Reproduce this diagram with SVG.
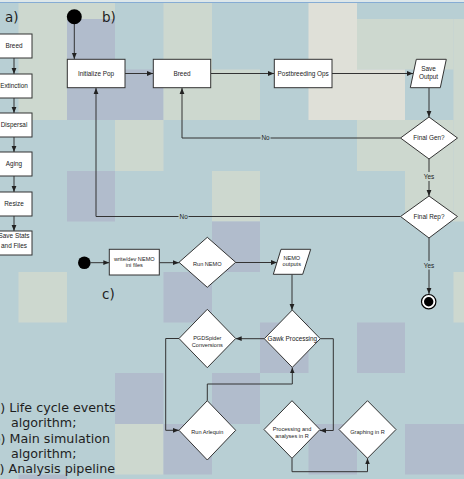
<svg xmlns="http://www.w3.org/2000/svg" width="464" height="479" viewBox="0 0 464 479">
<defs>
<style>
.b{fill:#b8cfd4}.be{fill:#cdd8cf}.lt{fill:#dfe0d8}.lv{fill:#b1bccc}
.n{fill:#ffffff;stroke:#333333;stroke-width:1}
.t{font-family:"Liberation Sans",Arial,sans-serif;font-size:6.4px;fill:#222222;text-anchor:middle}
.s{font-size:5.6px}
.e{fill:none;stroke:#333333;stroke-width:1}
.big{font-family:"DejaVu Sans",Verdana,sans-serif;fill:#1e1e1e}
</style>
<marker id="ar" viewBox="0 0 10 10" refX="10" refY="5" markerWidth="6" markerHeight="6" markerUnits="userSpaceOnUse" orient="auto">
<path d="M0,1 L10,5 L0,9 z" fill="#222222"/>
</marker>
</defs>
<g id="background">
<rect x="0" y="0" width="464" height="479" class="b"/>
<rect x="0" y="0" width="464" height="2.5" fill="#dde7ea"/>
<line x1="0" y1="2.5" x2="464" y2="2.5" stroke="#86acd4" stroke-width="1"/>
<rect x="18.5" y="3" width="48.5" height="117" class="be"/>
<rect x="67" y="3" width="48" height="16" class="be"/>
<rect x="67" y="19" width="48" height="101" class="lv"/>
<rect x="115" y="69.5" width="48.5" height="50.5" class="lv"/>
<rect x="163.5" y="3" width="48.5" height="117" class="be"/>
<rect x="212" y="69.5" width="48" height="50.5" class="be"/>
<rect x="308.5" y="3" width="48.5" height="117" class="lt"/>
<rect x="357" y="19" width="48" height="50.5" class="be"/>
<rect x="357" y="69.5" width="48" height="50.5" class="lt"/>
<rect x="405" y="19" width="48.5" height="50.5" class="be"/>
<rect x="453.5" y="19" width="10.5" height="202.5" class="be"/>
<rect x="115" y="120" width="48.5" height="51" class="be"/>
<rect x="357" y="120" width="48" height="51" class="be"/>
<rect x="405" y="120" width="48.5" height="101.5" class="be"/>
<rect x="67" y="171" width="48" height="50.5" class="lv"/>
<rect x="212" y="171" width="48" height="50.5" class="be"/>
<rect x="212" y="221.5" width="48" height="50.5" class="lv"/>
<rect x="18.5" y="272" width="48.5" height="50.5" class="be"/>
<rect x="163.5" y="272" width="48.5" height="50.5" class="lv"/>
<rect x="453.5" y="272" width="10.5" height="50.5" class="be"/>
<rect x="260" y="322.5" width="48.5" height="50.5" class="lv"/>
<rect x="357" y="322.5" width="48" height="50.5" class="lv"/>
<rect x="115" y="373" width="48.5" height="51" class="lv"/>
<rect x="212" y="373" width="48" height="51" class="lv"/>
<rect x="115" y="424" width="48.5" height="50.5" class="be"/>
<rect x="163.5" y="424" width="48.5" height="50.5" class="lv"/>
<rect x="308.5" y="424" width="48.5" height="50.5" class="lv"/>
<rect x="405" y="424" width="59" height="50.5" class="lv"/>
<rect x="18.5" y="474.5" width="48.5" height="4.5" class="lv"/>
</g>
<g id="panel-labels" class="big" font-size="13.5">
<text x="5" y="22">a)</text>
<text x="102" y="21.7">b)</text>
<text x="102" y="299.3">c)</text>
</g>
<g id="connectors">
<path class="e" marker-end="url(#ar)" d="M14,58 V74"/>
<path class="e" marker-end="url(#ar)" d="M14,98 V113"/>
<path class="e" marker-end="url(#ar)" d="M14,137 V152"/>
<path class="e" marker-end="url(#ar)" d="M14,176 V192"/>
<path class="e" marker-end="url(#ar)" d="M14,216 V231"/>
<path class="e" marker-end="url(#ar)" d="M74.3,24 V59"/>
<path class="e" marker-end="url(#ar)" d="M125,73.5 H153"/>
<path class="e" marker-end="url(#ar)" d="M211,73.5 H274"/>
<path class="e" marker-end="url(#ar)" d="M332,73.5 H413"/>
<path class="e" marker-end="url(#ar)" d="M429,88 V117"/>
<path class="e" d="M400.5,138 H270.5"/>
<path class="e" marker-end="url(#ar)" d="M260.5,138 H182 V88"/>
<path class="e" d="M429,159 V172"/>
<path class="e" marker-end="url(#ar)" d="M429,181 V196"/>
<path class="e" d="M400.5,216.5 H188.5"/>
<path class="e" marker-end="url(#ar)" d="M178.5,216.5 H96 V88"/>
<path class="e" d="M429,238 V261"/>
<path class="e" marker-end="url(#ar)" d="M429,269.5 V294"/>
<path class="e" marker-end="url(#ar)" d="M90.6,262.7 H109.3"/>
<path class="e" marker-end="url(#ar)" d="M159.3,262.7 H179"/>
<path class="e" marker-end="url(#ar)" d="M235.7,262.5 H277"/>
<path class="e" marker-end="url(#ar)" d="M292,274.3 V310"/>
<path class="e" marker-end="url(#ar)" d="M264.3,338.7 H235.7"/>
<path class="e" marker-end="url(#ar)" d="M179,338.5 H165.7 V430.3 H179"/>
<path class="e" marker-end="url(#ar)" d="M207.3,400.7 V384 H292.3 V367.4"/>
<path class="e" marker-end="url(#ar)" d="M320.3,338.7 H333.3 V430.5 H320"/>
<path class="e" marker-end="url(#ar)" d="M292,458.3 V471.7 H367.5 V458.3"/>
<g class="t">
<text x="265.5" y="140.3">No</text>
<text x="429" y="179">Yes</text>
<text x="183.7" y="218.8">No</text>
<text x="429" y="267.5">Yes</text>
</g>
</g>
<g id="a-breed"><rect class="n" x="-4" y="34" width="36" height="24"/><text class="t" x="14" y="48.3">Breed</text></g>
<g id="a-extinction"><rect class="n" x="-4" y="74" width="36" height="24"/><text class="t" x="14" y="88.3">Extinction</text></g>
<g id="a-dispersal"><rect class="n" x="-4" y="113" width="36" height="24"/><text class="t" x="14" y="127.3">Dispersal</text></g>
<g id="a-aging"><rect class="n" x="-4" y="152" width="36" height="24"/><text class="t" x="14" y="166.3">Aging</text></g>
<g id="a-resize"><rect class="n" x="-4" y="192" width="36" height="24"/><text class="t" x="14" y="206.3">Resize</text></g>
<g id="a-save"><rect class="n" x="-4" y="231" width="36" height="24"/><text class="t" x="14" y="238.4">Save Stats</text><text class="t" x="14" y="248.4">and Files</text></g>
<g id="b-start"><circle cx="74.3" cy="16.7" r="7.5" fill="#000000"/></g>
<g id="b-init"><rect class="n" x="67.3" y="59.3" width="57.7" height="28.4"/><text class="t" x="96" y="75.8">Initialize Pop</text></g>
<g id="b-breed"><rect class="n" x="153.3" y="59.3" width="57.4" height="28.4"/><text class="t" x="182" y="75.8">Breed</text></g>
<g id="b-postbreeding"><rect class="n" x="274.3" y="59.3" width="57.7" height="28.4"/><text class="t" x="303.2" y="75.8">Postbreeding Ops</text></g>
<g id="b-save"><polygon class="n" points="416.3,59.3 446.3,59.3 440.3,87.7 410.3,87.7"/><text class="t" x="428.5" y="70.9">Save</text><text class="t" x="428.5" y="78.9">Output</text></g>
<g id="b-finalgen"><polygon class="n" points="429,117 457.5,138 429,159 400.5,138"/><text class="t" x="429" y="140.3">Final Gen?</text></g>
<g id="b-finalrep"><polygon class="n" points="429,196 457.5,216.5 429,238 400.5,216.5"/><text class="t" x="429" y="218.8">Final Rep?</text></g>
<g id="b-end"><circle cx="428.7" cy="301.7" r="7.2" fill="#ffffff" stroke="#000000" stroke-width="1.2"/><circle cx="428.7" cy="301.7" r="4.7" fill="#000000"/></g>
<g id="c-start"><circle cx="84.3" cy="262.7" r="6.3" fill="#000000"/></g>
<g id="c-write"><rect class="n" x="109.3" y="249.3" width="50" height="25.7"/><text class="t s" x="134.3" y="260.8">write/dev NEMO</text><text class="t s" x="134.3" y="267.4">ini files</text></g>
<g id="c-runnemo"><polygon class="n" points="207.3,237.3 235.7,262.3 207.3,287.3 179,262.3"/><text class="t s" x="207.3" y="266">Run NEMO</text></g>
<g id="c-outputs"><polygon class="n" points="281,249.3 310.7,249.3 302.7,274.3 273.3,274.3"/><text class="t s" x="291.8" y="259.7">NEMO</text><text class="t s" x="291.8" y="266.4">outputs</text></g>
<g id="c-gawk"><polygon class="n" points="292.3,310 320.3,338.7 292.3,367.4 264.3,338.7"/><text class="t" x="292.3" y="341" font-size="6.2">Gawk Processing</text></g>
<g id="c-pgdspider"><polygon class="n" points="207.3,309.3 235.7,338.5 207.3,367.7 179,338.5"/><text class="t s" x="207.3" y="339.5">PGDSpider</text><text class="t s" x="207.3" y="346.5">Conversions</text></g>
<g id="c-arlequin"><polygon class="n" points="207.3,400.7 235.7,430.3 207.3,460 179,430.3"/><text class="t s" x="207.3" y="433.8">Run Arlequin</text></g>
<g id="c-processing"><polygon class="n" points="292,400.7 320,429.5 292,458.3 264,429.5"/><text class="t s" x="292" y="431.1">Processing and</text><text class="t s" x="292" y="437.8">analyses in R</text></g>
<g id="c-graphing"><polygon class="n" points="367.5,400.7 396,429.5 367.5,458.3 339,429.5"/><text class="t s" x="367.5" y="434.2">Graphing in R</text></g>
<g id="caption" class="big" font-size="12.7">
<text x="-7.5" y="411.7">a) Life cycle events</text>
<text x="11" y="426.5">algorithm;</text>
<text x="-7.5" y="442.5">b) Main simulation</text>
<text x="11" y="457.8">algorithm;</text>
<text x="-7.5" y="473.2">c) Analysis pipeline</text>
</g>
</svg>
